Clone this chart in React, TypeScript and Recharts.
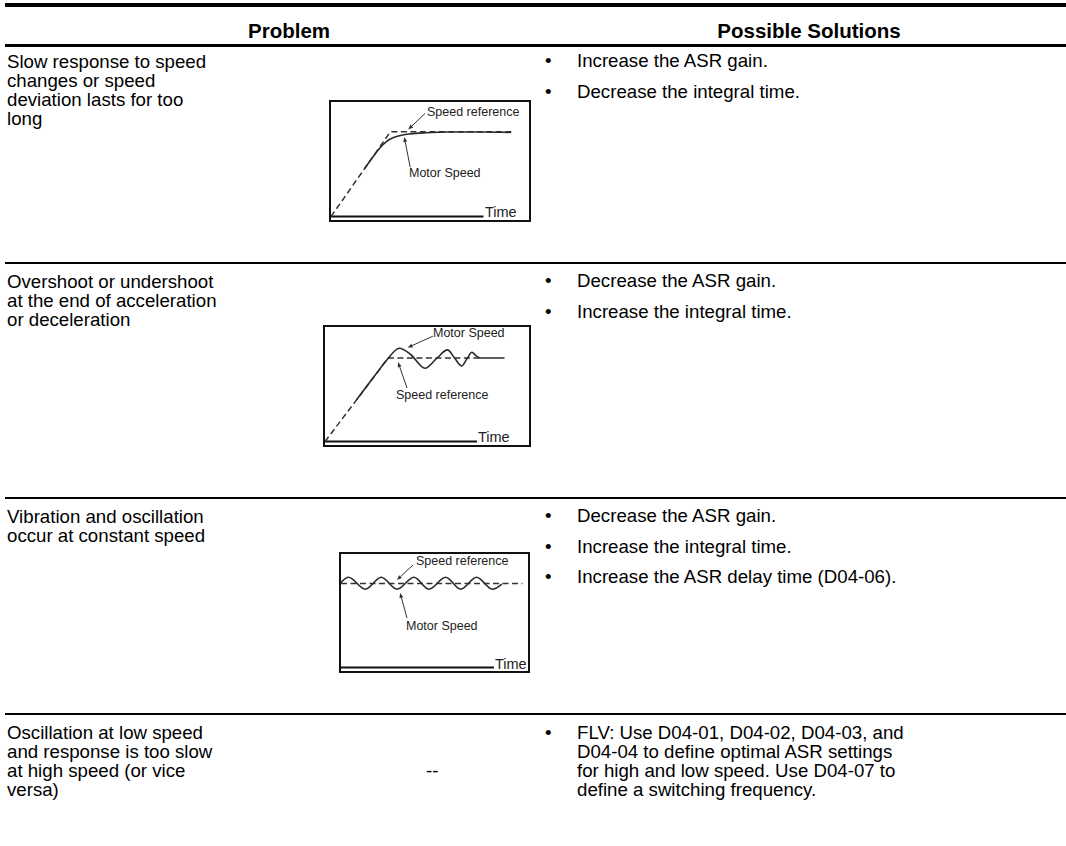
import React from 'react';
import { LineChart, Line, XAxis, YAxis, ReferenceLine } from 'recharts';

const FONT = '"Liberation Sans", Arial, Helvetica, sans-serif';

// ---------------- table text ----------------
const headers = ['Problem', 'Possible Solutions'];

const problemTexts = [
  'Slow response to speed\nchanges or speed\ndeviation lasts for too\nlong',
  'Overshoot or undershoot\nat the end of acceleration\nor deceleration',
  'Vibration and oscillation\noccur at constant speed',
  'Oscillation at low speed\nand response is too slow\nat high speed (or vice\nversa)',
];

const solutionTexts = [
  ['Increase the ASR gain.', 'Decrease the integral time.'],
  ['Decrease the ASR gain.', 'Increase the integral time.'],
  ['Decrease the ASR gain.', 'Increase the integral time.', 'Increase the ASR delay time (D04-06).'],
  ['FLV: Use D04-01, D04-02, D04-03, and\nD04-04 to define optimal ASR settings\nfor high and low speed. Use D04-07 to\ndefine a switching frequency.'],
];

const noChartText = '--';

// ---------------- chart labels ----------------
const axisLabel = 'Time';
const refLabel = 'Speed reference';
const motorLabel = 'Motor Speed';

// ---------------- chart 1: slow response ----------------
const slowRefTime = [0, 30, 91];
const slowRefSpeed = [0, 74, 74];
const slowMotorTime = [17, 22, 25, 28, 31, 35, 40, 48, 60, 75, 91];
const slowMotorSpeed = [42, 54, 60.5, 65.5, 68.5, 70.8, 72.2, 73.2, 73.8, 73.8, 73.5];

// ---------------- chart 2: overshoot ----------------
const overRefTime = [0, 31, 76];
const overRefSpeed = [0, 73, 73];
const overMotorTime = [15.5, 25, 30, 36.5, 42, 49, 55, 60, 63.5, 67, 69.5, 72, 74, 76, 88];
const overMotorSpeed = [36.5, 59, 70.5, 81.5, 76, 64, 73, 80, 73, 66, 72, 78, 75, 73, 73];

// ---------------- chart 3: vibration ----------------
const vibRefTime = [0, 97];
const vibRefSpeed = [74, 74];
const vibMotorTime = [0, 4, 13, 21.5, 30, 39, 47, 56, 64, 72.5, 81, 86];
const vibMotorSpeed = [75, 79.5, 69, 79.5, 69, 79.5, 69, 79.5, 69, 79.5, 69, 73.5];

type Row = { t: number; reference?: number; motor?: number };

function buildRows(refT: number[], refS: number[], motT: number[], motS: number[]): Row[] {
  const map = new Map<number, Row>();
  refT.forEach((t, i) => {
    const r = map.get(t) ?? { t };
    r.reference = refS[i];
    map.set(t, r);
  });
  motT.forEach((t, i) => {
    const r = map.get(t) ?? { t };
    r.motor = motS[i];
    map.set(t, r);
  });
  return Array.from(map.values()).sort((a, b) => a.t - b.t);
}

const ArrowShape = (props: any) => {
  const { x1, y1, x2, y2 } = props;
  if ([x1, y1, x2, y2].some((v) => typeof v !== 'number' || isNaN(v))) return <g />;
  const ang = Math.atan2(y2 - y1, x2 - x1);
  const L = 5;
  const W = 2;
  const bx = x2 - L * Math.cos(ang);
  const by = y2 - L * Math.sin(ang);
  const px = -Math.sin(ang) * W;
  const py = Math.cos(ang) * W;
  return (
    <g>
      <line x1={x1} y1={y1} x2={bx} y2={by} stroke="#333" strokeWidth={1} />
      <polygon points={`${x2},${y2} ${bx + px},${by + py} ${bx - px},${by - py}`} fill="#333" />
    </g>
  );
};

type Arrow = { from: [number, number]; to: [number, number] };
type Lbl = { text: string; x: number; y: number; size: number };

function SpeedChart(props: {
  left: number;
  top: number;
  width: number;
  height: number;
  rows: Row[];
  axisEnd: number;
  arrows: Arrow[];
  labels: Lbl[];
}) {
  const { left, top, width, height, rows, axisEnd, arrows, labels } = props;
  const w = width - 4;
  const h = height - 4;
  return (
    <div
      style={{
        position: 'absolute',
        left,
        top,
        width: w,
        height: h,
        border: '2px solid #111',
        background: '#fff',
      }}
    >
      <LineChart width={w} height={h} data={rows} margin={{ top: 0, right: 0, bottom: 0, left: 0 }}>
        <XAxis type="number" dataKey="t" domain={[0, 100]} hide allowDataOverflow />
        <YAxis type="number" domain={[-3, 100]} hide allowDataOverflow />
        <ReferenceLine
          segment={[
            { x: 0, y: 0 },
            { x: axisEnd, y: 0 },
          ]}
          stroke="#111"
          strokeWidth={2}
          ifOverflow="visible"
        />
        <Line
          dataKey="reference"
          type="linear"
          stroke="#333"
          strokeWidth={1.5}
          strokeDasharray="6 3.5"
          dot={false}
          activeDot={false}
          connectNulls
          isAnimationActive={false}
        />
        <Line
          dataKey="motor"
          type="monotone"
          stroke="#2a2a2a"
          strokeWidth={1.6}
          dot={false}
          activeDot={false}
          connectNulls
          isAnimationActive={false}
        />
        {arrows.map((a, i) => (
          <ReferenceLine
            key={i}
            segment={[
              { x: a.from[0], y: a.from[1] },
              { x: a.to[0], y: a.to[1] },
            ]}
            shape={ArrowShape}
            ifOverflow="visible"
          />
        ))}
      </LineChart>
      {labels.map((l, i) => (
        <div
          key={i}
          style={{
            position: 'absolute',
            left: l.x - 2,
            top: l.y - 2,
            transform: 'translateY(-50%)',
            fontSize: l.size,
            lineHeight: 1,
            color: '#222',
            whiteSpace: 'nowrap',
          }}
        >
          {l.text}
        </div>
      ))}
    </div>
  );
}

export default function App() {
  const slowRows = buildRows(slowRefTime, slowRefSpeed, slowMotorTime, slowMotorSpeed);
  const overRows = buildRows(overRefTime, overRefSpeed, overMotorTime, overMotorSpeed);
  const vibRows = buildRows(vibRefTime, vibRefSpeed, vibMotorTime, vibMotorSpeed);

  const problemTops = [52, 271.5, 506.5, 722.5];
  const solutionTops = [51, 271, 506, 722.5];
  const separatorTops = [262, 497, 713];

  return (
    <div
      style={{
        position: 'absolute',
        left: 0,
        top: 0,
        width: 1066,
        height: 846,
        background: '#fff',
        fontFamily: FONT,
        color: '#000',
        overflow: 'hidden',
      }}
    >
      {/* top rule */}
      <div style={{ position: 'absolute', left: 5, top: 3, width: 1061, height: 4, background: '#000' }} />
      {/* headers */}
      <div
        style={{
          position: 'absolute',
          left: 189,
          width: 200,
          top: 19,
          lineHeight: '24px',
          fontSize: 20.5,
          fontWeight: 'bold',
          textAlign: 'center',
        }}
      >
        {headers[0]}
      </div>
      <div
        style={{
          position: 'absolute',
          left: 659,
          width: 300,
          top: 19,
          lineHeight: '24px',
          fontSize: 20.5,
          fontWeight: 'bold',
          textAlign: 'center',
        }}
      >
        {headers[1]}
      </div>
      <div style={{ position: 'absolute', left: 5, top: 44, width: 1061, height: 3, background: '#000' }} />

      {separatorTops.map((t, i) => (
        <div key={i} style={{ position: 'absolute', left: 5, top: t, width: 1061, height: 2, background: '#000' }} />
      ))}

      {problemTexts.map((txt, i) => (
        <div
          key={i}
          style={{
            position: 'absolute',
            left: 7,
            top: problemTops[i],
            fontSize: 18.67,
            lineHeight: '19px',
            whiteSpace: 'pre-line',
          }}
        >
          {txt}
        </div>
      ))}

      {solutionTexts.map((items, r) =>
        items.map((txt, j) => (
          <React.Fragment key={`${r}-${j}`}>
            <div
              style={{
                position: 'absolute',
                left: 545,
                top: solutionTops[r] + j * 30.5,
                fontSize: 18.67,
                lineHeight: '19px',
              }}
            >
              •
            </div>
            <div
              style={{
                position: 'absolute',
                left: 577,
                top: solutionTops[r] + j * 30.5,
                fontSize: 18.67,
                lineHeight: '19px',
                whiteSpace: 'pre-line',
              }}
            >
              {txt}
            </div>
          </React.Fragment>
        ))
      )}

      <div style={{ position: 'absolute', left: 426, top: 760.5, fontSize: 18.67, lineHeight: '19px' }}>
        {noChartText}
      </div>

      <SpeedChart
        left={329}
        top={100}
        width={202}
        height={122}
        rows={slowRows}
        axisEnd={77}
        arrows={[
          { from: [47.5, 90], to: [39, 76] },
          { from: [40, 43], to: [37, 69.5] },
        ]}
        labels={[
          { text: refLabel, x: 98, y: 12, size: 12.5 },
          { text: motorLabel, x: 80, y: 73, size: 12.5 },
          { text: axisLabel, x: 156, y: 112, size: 14.5 },
        ]}
      />

      <SpeedChart
        left={323}
        top={325}
        width={208}
        height={122}
        rows={overRows}
        axisEnd={74.5}
        arrows={[
          { from: [52.9, 92], to: [40.5, 82] },
          { from: [40.2, 46.8], to: [35.8, 69.4] },
        ]}
        labels={[
          { text: motorLabel, x: 110, y: 8, size: 12.5 },
          { text: refLabel, x: 73, y: 70, size: 12.5 },
          { text: axisLabel, x: 155, y: 112, size: 14.5 },
        ]}
      />

      <SpeedChart
        left={339}
        top={552}
        width={191}
        height={121}
        rows={vibRows}
        axisEnd={81.8}
        arrows={[
          { from: [38.5, 90.3], to: [29.9, 77.1] },
          { from: [35.3, 43.7], to: [31.6, 65.7] },
        ]}
        labels={[
          { text: refLabel, x: 77, y: 9, size: 12.5 },
          { text: motorLabel, x: 67, y: 74, size: 12.5 },
          { text: axisLabel, x: 156, y: 112, size: 14.5 },
        ]}
      />
    </div>
  );
}
